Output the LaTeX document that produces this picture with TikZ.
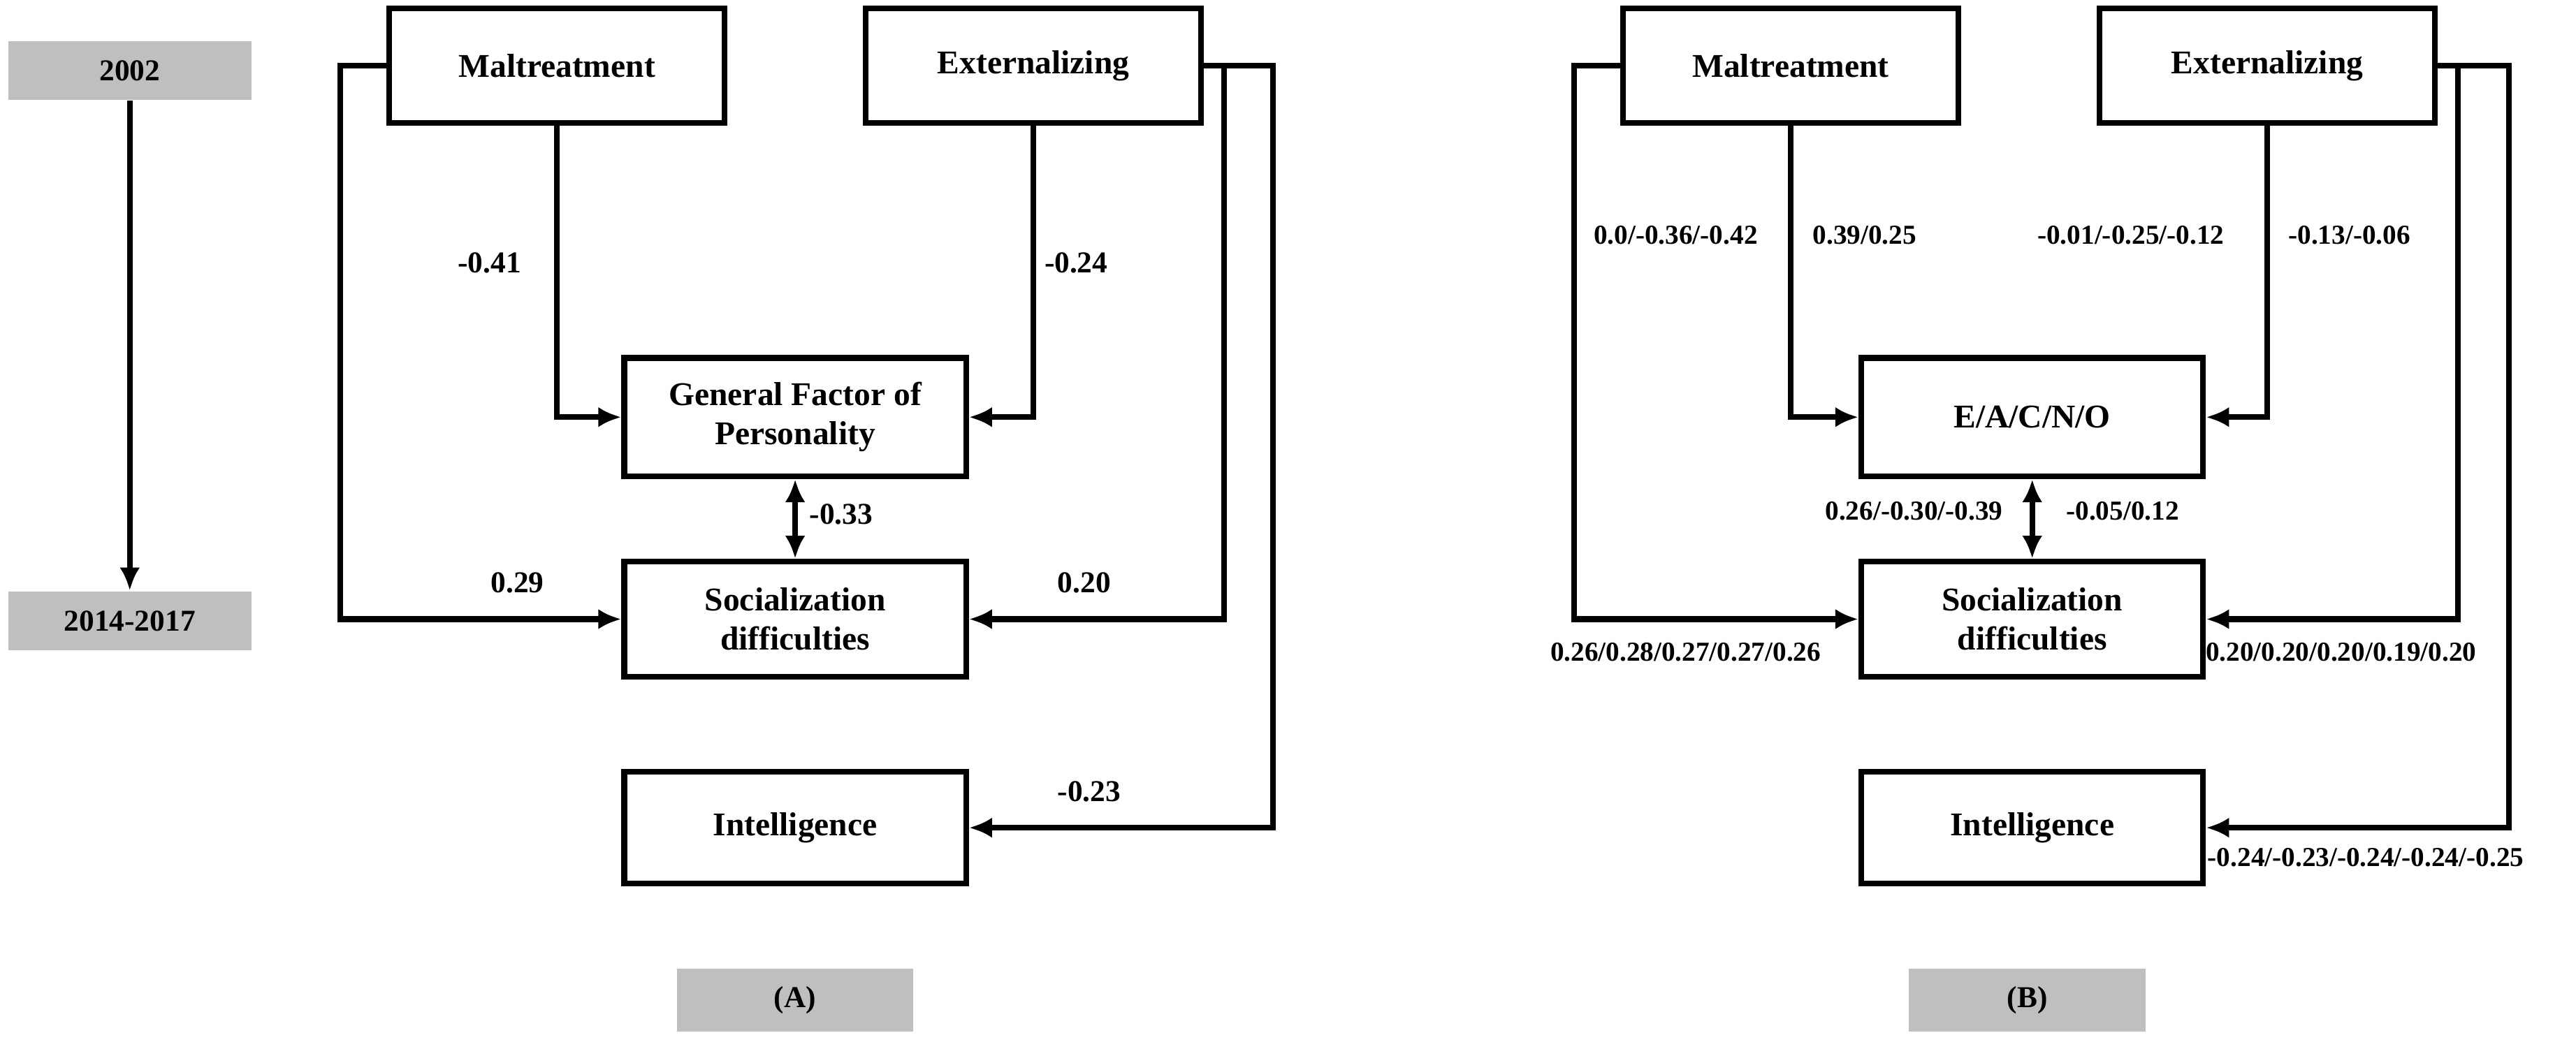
\documentclass[tikz,border=0pt]{standalone}
\usepackage{fontspec}
\setmainfont{Liberation Serif}
\usetikzlibrary{arrows.meta}
\begin{document}
\begin{tikzpicture}[x=0.02cm,y=-0.02cm,
 bx/.style={draw,line width=2pt,font=\bfseries\fontsize{11.5}{13.5}\selectfont,align=center,inner sep=0pt},
 gb/.style={fill=black!25,font=\bfseries\fontsize{10.5}{12}\selectfont,inner sep=0pt},
 ln/.style={line width=2pt,-{Latex[length=8pt,width=7pt]}},
 lb/.style={font=\bfseries\fontsize{10.5}{12}\selectfont},
 ls/.style={font=\bfseries\fontsize{9.5}{11}\selectfont}]
\useasboundingbox (0,0) rectangle (1568,643);
\node[gb,minimum width=148*0.02cm,minimum height=36*0.02cm] (y1) at (79,43) {2002};
\node[gb,minimum width=148*0.02cm,minimum height=36*0.02cm] (y2) at (79,378) {2014-2017};
\draw[ln] (y1) -- (y2);
% Panel A
\node[bx,minimum width=204*0.02cm,minimum height=70*0.02cm] (ma) at (339,40) {Maltreatment};
\node[bx,minimum width=204*0.02cm,minimum height=70*0.02cm] (ea) at (629,40) {Externalizing};
\node[bx,minimum width=208*0.02cm,minimum height=72*0.02cm] (ga) at (484,254) {General Factor of\\Personality};
\node[bx,minimum width=208*0.02cm,minimum height=70*0.02cm] (sa) at (484,377) {Socialization\\difficulties};
\node[bx,minimum width=208*0.02cm,minimum height=68*0.02cm] (ia) at (484,504) {Intelligence};
\node[gb,minimum width=144*0.02cm,minimum height=38*0.02cm] (la) at (484,609) {(A)};
\draw[ln] (ma.west) -- (207,40) |- (sa.west);
\draw[ln] (ma.south) |- (ga.west);
\draw[ln] (ea.south) |- (ga.east);
\draw[ln] (ea.east) -- (745,40) |- (sa.east);
\draw[ln] (ea.east) -- (775,40) |- (ia.east);
\draw[ln,{Latex[length=8pt,width=7pt]}-{Latex[length=8pt,width=7pt]}] (ga.south) -- (sa.north);
\node[lb] at (298,160) {-0.41};
\node[lb] at (655,160) {-0.24};
\node[lb] at (512,313) {-0.33};
\node[lb] at (315,355) {0.29};
\node[lb] at (660,355) {0.20};
\node[lb] at (663,482) {-0.23};
% Panel B
\node[bx,minimum width=204*0.02cm,minimum height=70*0.02cm] (mb) at (1090,40) {Maltreatment};
\node[bx,minimum width=204*0.02cm,minimum height=70*0.02cm] (eb) at (1380,40) {Externalizing};
\node[bx,minimum width=208*0.02cm,minimum height=72*0.02cm] (gb) at (1237,254) {E/A/C/N/O};
\node[bx,minimum width=208*0.02cm,minimum height=70*0.02cm] (sb) at (1237,377) {Socialization\\difficulties};
\node[bx,minimum width=208*0.02cm,minimum height=68*0.02cm] (ib) at (1237,504) {Intelligence};
\node[gb,minimum width=144*0.02cm,minimum height=38*0.02cm] (lbb) at (1234,609) {(B)};
\draw[ln] (mb.west) -- (958,40) |- (sb.west);
\draw[ln] (mb.south) |- (gb.west);
\draw[ln] (eb.south) |- (gb.east);
\draw[ln] (eb.east) -- (1496,40) |- (sb.east);
\draw[ln] (eb.east) -- (1527,40) |- (ib.east);
\draw[ln,{Latex[length=8pt,width=7pt]}-{Latex[length=8pt,width=7pt]}] (gb.south) -- (sb.north);
\node[ls] at (1020,143) {0.0/-0.36/-0.42};
\node[ls] at (1135,143) {0.39/0.25};
\node[ls] at (1297,143) {-0.01/-0.25/-0.12};
\node[ls] at (1430,143) {-0.13/-0.06};
\node[ls] at (1165,311) {0.26/-0.30/-0.39};
\node[ls] at (1292,311) {-0.05/0.12};
\node[ls] at (1026,397) {0.26/0.28/0.27/0.27/0.26};
\node[ls] at (1425,397) {0.20/0.20/0.20/0.19/0.20};
\node[ls] at (1440,522) {-0.24/-0.23/-0.24/-0.24/-0.25};
\end{tikzpicture}
\end{document}
